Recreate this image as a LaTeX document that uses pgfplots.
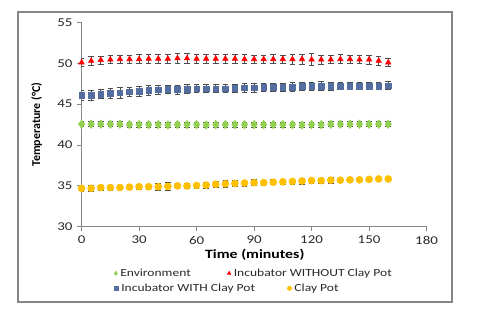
\documentclass[border=0pt]{standalone}
\usepackage{pgfplots}
\pgfplotsset{compat=1.18}
\usepackage{pgfplotstable}
\usepackage{fontspec}
\setmainfont{Carlito}[FakeStretch=1.25]
\newfontfamily\plainfont{Carlito}

\definecolor{envgreen}{RGB}{146,208,80}
\definecolor{incred}{RGB}{255,0,0}
\definecolor{incblue}{RGB}{84,110,160}
\definecolor{potyellow}{RGB}{255,192,0}
\definecolor{axgray}{RGB}{134,134,134}
\definecolor{txt}{RGB}{40,40,40}

% time (min), mean temperature, error
\pgfplotstableread{
x y e
0 42.55 0.3
5 42.55 0.3
10 42.55 0.3
15 42.55 0.3
20 42.55 0.3
25 42.5 0.3
30 42.5 0.3
35 42.5 0.3
40 42.5 0.3
45 42.45 0.3
50 42.5 0.3
55 42.5 0.3
60 42.5 0.3
65 42.45 0.3
70 42.5 0.3
75 42.5 0.3
80 42.5 0.3
85 42.5 0.3
90 42.5 0.3
95 42.5 0.3
100 42.5 0.3
105 42.5 0.3
110 42.5 0.3
115 42.45 0.3
120 42.5 0.3
125 42.5 0.3
130 42.55 0.3
135 42.55 0.3
140 42.55 0.3
145 42.55 0.3
150 42.55 0.3
155 42.55 0.3
160 42.55 0.3
}\envdata

\pgfplotstableread{
x y e
0 50.1 0.5
5 50.3 0.5
10 50.4 0.5
15 50.45 0.5
20 50.5 0.5
25 50.5 0.5
30 50.5 0.55
35 50.55 0.55
40 50.55 0.6
45 50.55 0.6
50 50.6 0.65
55 50.6 0.6
60 50.55 0.5
65 50.55 0.5
70 50.55 0.5
75 50.55 0.55
80 50.55 0.55
85 50.5 0.55
90 50.5 0.5
95 50.5 0.5
100 50.5 0.55
105 50.5 0.5
110 50.5 0.6
115 50.5 0.6
120 50.45 0.75
125 50.45 0.55
130 50.45 0.5
135 50.5 0.55
140 50.5 0.5
145 50.45 0.5
150 50.45 0.55
155 50.3 0.5
160 50.1 0.5
}\woutdata

\pgfplotstableread{
x y e
0 46.1 0.6
5 46.1 0.6
10 46.2 0.55
15 46.3 0.6
20 46.4 0.65
25 46.5 0.6
30 46.6 0.6
35 46.7 0.6
40 46.75 0.55
45 46.8 0.5
50 46.8 0.55
55 46.85 0.55
60 46.9 0.5
65 46.9 0.5
70 46.9 0.5
75 46.9 0.5
80 46.95 0.5
85 47.0 0.5
90 47.0 0.5
95 47.05 0.5
100 47.05 0.5
105 47.1 0.5
110 47.1 0.55
115 47.15 0.5
120 47.15 0.5
125 47.2 0.55
130 47.2 0.5
135 47.2 0.45
140 47.2 0.45
145 47.2 0.45
150 47.2 0.45
155 47.2 0.45
160 47.25 0.5
}\withdata

\pgfplotstableread{
x y e
0 34.7 0.35
5 34.7 0.35
10 34.8 0.3
15 34.8 0.3
20 34.8 0.25
25 34.85 0.3
30 34.9 0.35
35 34.9 0.3
40 34.9 0.45
45 34.95 0.45
50 35.0 0.35
55 35.0 0.3
60 35.05 0.3
65 35.1 0.35
70 35.2 0.4
75 35.25 0.45
80 35.3 0.35
85 35.35 0.35
90 35.4 0.35
95 35.4 0.3
100 35.45 0.3
105 35.5 0.3
110 35.55 0.3
115 35.6 0.35
120 35.65 0.3
125 35.65 0.3
130 35.7 0.4
135 35.7 0.2
140 35.75 0.2
145 35.75 0.2
150 35.8 0.3
155 35.85 0.1
160 35.85 0.1
}\potdata

\pgfplotsset{
  ebar/.style={
    only marks,
    error bars/y dir=both,
    error bars/y explicit,
    error bars/error bar style={black!70, line width=0.5pt},
    error bars/error mark options={rotate=90, mark size=2pt, black!70, line width=0.5pt},
  },
  legstyle/.style={
    legend columns=2,
    legend cell align=left,
    legend image code/.code={\draw[mark repeat=2,mark phase=2,##1] plot coordinates {(0cm,0cm)(0.12cm,0cm)(0.24cm,0cm)};},
    legend image post style={mark size=1.5pt},
    legend style={draw=none, fill=none, inner sep=0pt, anchor=west,
      font=\fontsize{7.7}{9}\selectfont, text=txt},
  },
}

\begin{document}
\begin{tikzpicture}
\useasboundingbox (0,0) rectangle (12,8);
\draw[axgray, line width=0.8pt] (0.45,0.45) rectangle (11.3,7.7);
\begin{axis}[
  at={(2.04cm,2.33cm)}, anchor=south west,
  scale only axis, width=8.625cm, height=5.11cm,
  xmin=0, xmax=180, ymin=30, ymax=55,
  xtick={0,30,...,180}, ytick={30,35,...,55},
  axis x line*=bottom, axis y line*=left,
  axis line style={axgray, line width=0.6pt},
  tick style={axgray, line width=0.6pt},
  tick align=outside, major tick length=3pt,
  /pgf/number format/assume math mode=true,
  tick label style={font=\fontsize{8.5}{10}\selectfont, text=txt},
  xlabel={\textbf{Time (minutes)}},
  xlabel style={font=\fontsize{9}{10}\selectfont, text=black, at={(axis description cs:0.502,-0.138)}, anchor=center},
  ylabel={\plainfont\bfseries Temperature (°C)},
  ylabel style={font=\fontsize{8.5}{9}\selectfont, text=black, at={(axis description cs:-0.13,0.5)}, anchor=center, rotate=0},
  legstyle,
  legend style={at={(axis description cs:0.094,-0.228)},
    /tikz/every even column/.append style={column sep=24pt}},
]
\addplot[ebar, mark=diamond*, mark size=3pt, color=envgreen] table[x=x, y=y, y error=e] {\envdata};
\addlegendentry{Environment}
\addplot[ebar, mark=triangle*, mark size=2.2pt, color=incred] table[x=x, y=y, y error=e] {\woutdata};
\addlegendentry{Incubator WITHOUT Clay Pot}
\addplot[ebar, mark=square*, mark size=2pt, color=incblue] table[x=x, y=y, y error=e] {\withdata};
\addplot[ebar, mark=*, mark size=2.5pt, color=potyellow] table[x=x, y=y, y error=e] {\potdata};
\end{axis}
\begin{axis}[
  at={(2.04cm,2.33cm)}, anchor=south west,
  scale only axis, width=8.625cm, height=5.11cm,
  xmin=0, xmax=180, ymin=30, ymax=55,
  hide axis,
  legstyle,
  legend style={at={(axis description cs:0.094,-0.301)},
    /tikz/every even column/.append style={column sep=21pt}},
]
\addlegendimage{only marks, mark=square*, color=incblue}
\addlegendentry{Incubator WITH Clay Pot}
\addlegendimage{only marks, mark=*, color=potyellow}
\addlegendentry{Clay Pot}
\end{axis}
\end{tikzpicture}
\end{document}
